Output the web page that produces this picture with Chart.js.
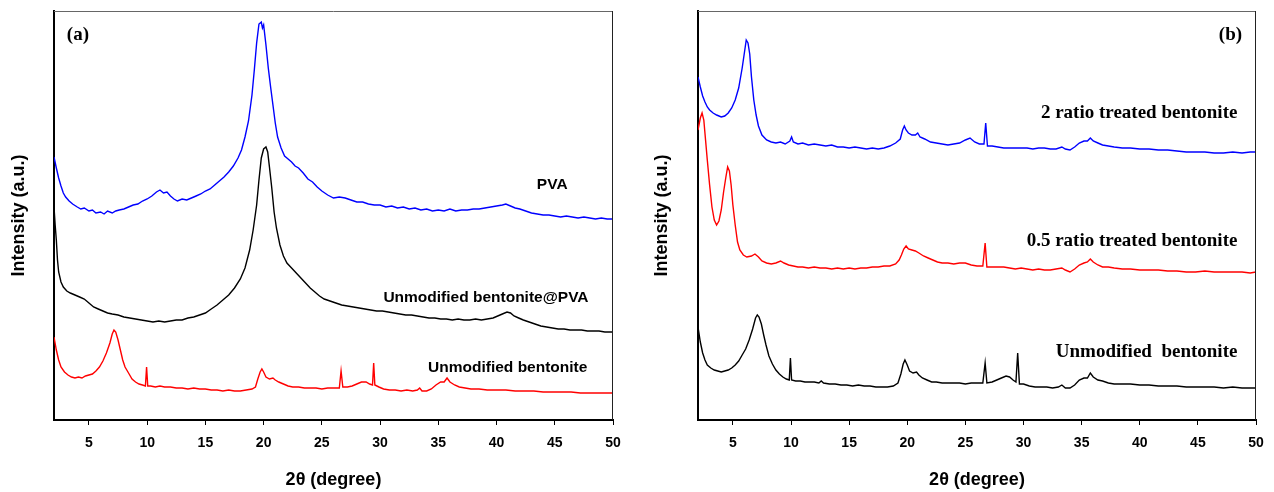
<!DOCTYPE html>
<html>
<head>
<meta charset="utf-8">
<script src="https://cdn.jsdelivr.net/npm/chart.js@4.4.0/dist/chart.umd.min.js"></script>
<style>
  html, body { margin: 0; padding: 0; background: #fff; }
  .row { display: flex; width: 1274px; height: 492px; }
  canvas { display: block; }
</style>
</head>
<body>
<div class="row">
  <canvas id="panelA" width="637" height="492"></canvas>
  <canvas id="panelB" width="637" height="492"></canvas>
</div>
<script>
/* ---------- data (2theta in degree, intensity in a.u.) ---------- */

const xTicks = [5, 10, 15, 20, 25, 30, 35, 40, 45, 50];

// panel (a)
const pvaA = [[2,263],[2.2,252],[2.4,242],[2.6,234],[2.8,227],[3.0,223],[3.3,219],[3.6,216],[4.0,213],[4.3,211],[4.6,212],[5.0,209],[5.3,210],[5.6,207],[6.0,208],[6.3,206],[6.6,209],[7.0,207],[7.3,209],[7.6,210],[8.0,211],[8.4,213],[8.8,215],[9.2,216],[9.6,219],[10.0,221],[10.4,224],[10.8,228],[11.1,230],[11.4,227],[11.7,228],[12.0,224],[12.3,221],[12.6,219],[13.0,221],[13.4,220],[13.8,222],[14.2,224],[14.6,226],[15.0,229],[15.4,231],[15.8,235],[16.2,239],[16.6,243],[17.0,248],[17.4,254],[17.8,262],[18.1,270],[18.4,283],[18.7,299],[19.0,325],[19.2,350],[19.4,377],[19.6,396],[19.8,398],[19.9,392],[20.0,395],[20.2,375],[20.4,352],[20.6,333],[20.8,315],[21.0,297],[21.2,283],[21.5,272],[21.8,264],[22.1,261],[22.4,258],[22.7,254],[23.0,252],[23.4,247],[23.8,241],[24.2,238],[24.6,233],[25.0,229],[25.5,225],[26.0,222],[26.5,223],[27.0,222],[27.5,220],[28.0,218],[28.5,218],[29.0,216],[29.5,215],[30.0,215],[30.5,213],[31.0,214],[31.5,212],[32.0,213],[32.5,211],[33.0,212],[33.5,210],[34.0,211],[34.5,209],[35.0,210],[35.5,209],[36.0,211],[36.5,209],[37.0,210],[37.5,210],[38.0,211],[38.5,211],[39.0,212],[39.5,213],[40.0,214],[40.5,215],[40.8,216],[41.2,214],[41.6,212],[42.0,211],[42.5,209],[43.0,207],[43.5,206],[44.0,205],[44.5,205],[45.0,204],[45.5,203],[46.0,204],[46.5,203],[47.0,202],[47.5,203],[48.0,202],[48.5,201],[49.0,202],[49.5,201],[50.0,201]];

const bentPvaA = [[2.0,213],[2.1,195],[2.2,180],[2.3,160],[2.4,148],[2.6,138],[2.8,133],[3.1,129],[3.4,127],[3.8,125],[4.2,123],[4.6,121],[5.0,117],[5.4,113],[5.8,111],[6.2,109],[6.6,107],[7.0,106],[7.5,105],[8.0,103],[8.5,102],[9.0,101],[9.5,100],[10.0,99],[10.5,98],[11.0,99],[11.5,98],[12.0,99],[12.5,100],[13.0,100],[13.5,102],[14.0,103],[14.5,105],[15.0,107],[15.5,111],[16.0,115],[16.5,120],[17.0,125],[17.5,132],[18.0,141],[18.4,152],[18.8,170],[19.1,190],[19.4,215],[19.6,240],[19.8,262],[20.0,271],[20.2,273],[20.35,268],[20.5,253],[20.7,232],[20.9,208],[21.1,192],[21.4,175],[21.7,164],[22.0,157],[22.4,152],[22.8,147],[23.2,142],[23.6,137],[24.0,132],[24.4,128],[24.8,124],[25.2,121],[25.7,119],[26.2,117],[26.7,115],[27.2,114],[27.7,113],[28.2,112],[28.7,111],[29.2,110],[29.7,109],[30.2,109],[30.7,108],[31.2,107],[31.7,106],[32.2,105],[32.7,105],[33.2,104],[33.7,103],[34.2,102],[34.7,102],[35.2,101],[35.7,101],[36.2,100],[36.7,101],[37.2,100],[37.7,100],[38.2,101],[38.7,100],[39.2,101],[39.7,102],[40.1,104],[40.5,106],[40.9,108],[41.2,107],[41.5,104],[41.9,102],[42.3,100],[42.8,98],[43.3,96],[43.8,94],[44.3,93],[44.8,92],[45.3,91],[45.8,91],[46.3,90],[46.8,90],[47.3,90],[47.8,89],[48.3,89],[48.8,89],[49.3,88],[50.0,88]];

const bentA = [[2.0,83],[2.2,70],[2.4,60],[2.6,53],[2.9,48],[3.2,45],[3.5,43],[3.8,42],[4.1,43],[4.4,42],[4.7,44],[5.0,45],[5.3,46],[5.6,49],[5.9,53],[6.2,59],[6.5,67],[6.8,77],[7.0,86],[7.15,90],[7.3,88],[7.5,80],[7.7,70],[7.9,60],[8.1,53],[8.4,47],[8.7,41],[9.0,38],[9.3,36],[9.6,35],[9.85,34],[9.95,53],[10.05,34],[10.3,34],[10.7,33],[11.1,34],[11.5,33],[12.0,33],[12.5,32],[13.0,32],[13.5,31],[14.0,32],[14.5,31],[15.0,31],[15.5,30],[16.0,30],[16.5,29],[17.0,30],[17.5,29],[18.0,29],[18.5,30],[19.0,31],[19.3,33],[19.5,41],[19.7,48],[19.85,51],[20.0,48],[20.2,43],[20.5,41],[20.8,42],[21.0,40],[21.3,38],[21.7,36],[22.1,34],[22.5,33],[23.0,33],[23.5,32],[24.0,32],[24.5,32],[25.0,31],[25.5,32],[26.0,32],[26.5,32],[26.65,49],[26.8,33],[27.2,33],[27.6,34],[28.0,36],[28.4,38],[28.8,38],[29.1,36],[29.35,35],[29.45,57],[29.55,35],[29.9,33],[30.3,31],[30.8,30],[31.3,30],[31.8,29],[32.3,30],[32.8,29],[33.2,30],[33.4,32],[33.6,29],[34.0,29],[34.4,31],[34.8,35],[35.2,38],[35.5,38],[35.75,42],[36.0,38],[36.4,35],[36.8,33],[37.3,32],[37.8,31],[38.5,31],[39.2,30],[40.0,30],[40.8,30],[41.6,29],[42.4,29],[43.2,29],[44.0,28],[44.8,28],[45.6,28],[46.4,28],[47.2,27],[48.0,27],[48.8,27],[49.5,27],[50.0,27]];

// panel (b)
const ratio2B = [[2.0,343],[2.2,333],[2.4,324],[2.6,318],[2.8,313],[3.0,310],[3.3,307],[3.6,305],[4.0,303],[4.3,304],[4.6,307],[4.9,312],[5.2,320],[5.5,332],[5.8,352],[6.0,368],[6.15,380],[6.3,377],[6.45,366],[6.6,343],[6.8,320],[7.0,305],[7.2,294],[7.5,285],[7.9,280],[8.3,278],[8.7,277],[9.1,278],[9.5,276],[9.9,279],[10.05,283],[10.2,278],[10.6,276],[11.0,277],[11.5,275],[12.0,276],[12.5,275],[13.0,274],[13.5,275],[14.0,273],[14.5,273],[15.0,272],[15.5,273],[16.0,272],[16.5,271],[17.0,272],[17.5,271],[18.0,272],[18.5,274],[19.0,277],[19.4,281],[19.6,290],[19.75,294],[19.9,290],[20.1,287],[20.4,285],[20.7,285],[20.9,287],[21.1,283],[21.5,281],[22.0,278],[22.5,277],[23.0,276],[23.5,275],[24.0,276],[24.5,277],[25.0,280],[25.4,282],[25.8,278],[26.2,276],[26.6,276],[26.75,297],[26.9,274],[27.3,274],[27.8,273],[28.3,272],[28.8,272],[29.3,272],[29.8,272],[30.3,272],[30.8,271],[31.3,272],[31.8,272],[32.3,271],[32.8,271],[33.3,273],[33.6,271],[34.0,270],[34.4,273],[34.8,277],[35.2,279],[35.5,279],[35.75,282],[36.0,279],[36.4,277],[36.8,275],[37.3,274],[37.8,273],[38.5,272],[39.2,272],[40.0,271],[40.8,271],[41.6,270],[42.4,270],[43.2,269],[44.0,268],[44.8,268],[45.6,268],[46.4,267],[47.2,267],[48.0,268],[48.8,267],[49.5,268],[50.0,268]];

const ratio05B = [[2.0,290],[2.1,296],[2.2,302],[2.35,307],[2.5,300],[2.65,280],[2.8,260],[3.0,235],[3.2,213],[3.4,200],[3.6,195],[3.8,199],[4.0,210],[4.2,228],[4.4,243],[4.55,253],[4.7,249],[4.85,235],[5.0,215],[5.2,195],[5.4,178],[5.6,170],[5.9,165],[6.2,163],[6.6,164],[6.9,166],[7.2,163],[7.5,159],[7.9,157],[8.3,156],[8.7,157],[9.1,159],[9.4,157],[9.8,155],[10.2,154],[10.6,153],[11.0,153],[11.5,152],[12.0,153],[12.5,152],[13.0,152],[13.5,151],[14.0,152],[14.5,151],[15.0,152],[15.5,151],[16.0,152],[16.5,152],[17.0,153],[17.5,153],[18.0,154],[18.5,154],[19.0,156],[19.3,160],[19.5,165],[19.7,171],[19.9,174],[20.1,171],[20.4,170],[20.7,169],[21.0,167],[21.4,164],[21.8,162],[22.2,160],[22.6,158],[23.0,157],[23.5,157],[24.0,156],[24.5,157],[25.0,157],[25.5,155],[26.0,154],[26.5,154],[26.7,177],[26.85,153],[27.3,153],[27.8,153],[28.3,153],[28.8,152],[29.3,151],[29.8,152],[30.3,151],[30.8,150],[31.3,151],[31.8,150],[32.3,150],[32.8,151],[33.3,152],[33.6,150],[34.0,148],[34.4,151],[34.8,155],[35.2,157],[35.5,158],[35.75,161],[36.0,158],[36.4,155],[36.8,153],[37.3,153],[37.8,152],[38.5,151],[39.2,151],[40.0,150],[40.8,150],[41.6,150],[42.4,149],[43.2,149],[44.0,148],[44.8,148],[45.6,149],[46.4,148],[47.2,148],[48.0,148],[48.8,148],[49.5,147],[50.0,148]];

const bentB = [[2.0,93],[2.2,78],[2.4,67],[2.6,60],[2.8,55],[3.1,52],[3.4,50],[3.7,49],[4.0,48],[4.3,49],[4.6,50],[4.9,52],[5.2,55],[5.5,59],[5.8,65],[6.1,71],[6.4,80],[6.7,91],[6.95,102],[7.1,105],[7.25,103],[7.45,96],[7.65,85],[7.85,75],[8.1,64],[8.4,56],[8.7,50],[9.0,46],[9.3,43],[9.6,41],[9.85,40],[9.95,62],[10.05,40],[10.4,39],[10.8,39],[11.2,38],[11.6,38],[12.0,38],[12.4,37],[12.6,39],[12.8,37],[13.3,36],[13.8,36],[14.3,35],[14.8,35],[15.3,34],[15.8,35],[16.3,34],[16.8,34],[17.3,33],[17.8,33],[18.3,33],[18.8,34],[19.2,37],[19.45,46],[19.65,56],[19.8,60],[20.0,55],[20.2,49],[20.5,47],[20.8,48],[21.0,45],[21.3,42],[21.7,40],[22.1,38],[22.5,38],[23.0,37],[23.5,37],[24.0,37],[24.5,37],[25.0,36],[25.5,37],[26.0,37],[26.5,37],[26.7,57],[26.85,37],[27.3,38],[27.7,40],[28.1,42],[28.5,44],[28.8,43],[29.1,40],[29.35,38],[29.5,67],[29.65,36],[30.0,36],[30.5,34],[31.0,33],[31.5,33],[32.0,33],[32.5,32],[33.0,33],[33.3,35],[33.6,32],[34.0,32],[34.4,35],[34.8,40],[35.2,42],[35.5,42],[35.75,47],[36.0,43],[36.4,40],[36.8,39],[37.3,37],[37.8,36],[38.5,36],[39.2,36],[40.0,35],[40.8,35],[41.6,34],[42.4,34],[43.2,34],[44.0,33],[44.8,33],[45.6,33],[46.4,33],[47.2,32],[48.0,33],[48.8,32],[49.5,32],[50.0,32]];

/* ---------- styling ---------- */
const SANS = "'Liberation Sans', Arial, sans-serif";
const SERIF = "'Liberation Serif', 'Times New Roman', serif";

// text drawn inside the plot, placed with data coordinates
const panelNotes = {
    id: 'panelNotes',
    afterDatasetsDraw(chart, args, opts) {
        const ctx = chart.ctx;
        const xs = chart.scales.x, ys = chart.scales.y;
        ctx.save();
        ctx.fillStyle = '#000';
        ctx.textBaseline = 'middle';
        (opts.items || []).forEach(function(n) {
            ctx.font = n.font;
            ctx.textAlign = n.align;
            ctx.fillText(n.text, xs.getPixelForValue(n.x), ys.getPixelForValue(n.y));
        });
        ctx.restore();
    },
    afterDraw(chart) {
        // thin top/right edges of the frame
        const a = chart.chartArea, ctx = chart.ctx;
        ctx.save();
        ctx.lineWidth = 1;
        ctx.strokeStyle = '#666';
        ctx.beginPath();
        ctx.moveTo(a.left, a.top + 0.5);
        ctx.lineTo(a.right, a.top + 0.5);
        ctx.stroke();
        ctx.strokeStyle = '#222';
        ctx.beginPath();
        ctx.moveTo(a.right - 0.5, a.top);
        ctx.lineTo(a.right - 0.5, a.bottom);
        ctx.stroke();
        ctx.restore();
    }
};

function toPoints(pairs) {
    return pairs.map(p => ({ x: p[0], y: p[1] }));
}

function makePanel(id, series, notes, yAxisWidth, rightPad, yTitlePad) {
    const ctx = document.getElementById(id);
    new Chart(ctx, {
        type: 'scatter',
        data: {
            datasets: series.map(s => ({
                data: toPoints(s.data),
                borderColor: s.color,
                backgroundColor: s.color,
                borderWidth: 1.4,
                showLine: true,
                pointRadius: 0,
                tension: 0
            }))
        },
        options: {
            responsive: false,
            animation: false,
            devicePixelRatio: 1,
            layout: { padding: { top: 11, right: rightPad, bottom: 0, left: 0 } },
            plugins: {
                legend: { display: false },
                tooltip: { enabled: false },
                panelNotes: { items: notes }
            },
            scales: {
                x: {
                    type: 'linear',
                    min: 2,
                    max: 50,
                    afterBuildTicks: function(scale) {
                        scale.ticks = xTicks.map(v => ({ value: v }));
                    },
                    afterFit: function(scale) { scale.height = 72; },
                    ticks: {
                        color: '#000',
                        padding: 10,
                        maxRotation: 0,
                        font: { family: SANS, size: 14, weight: 'bold' }
                    },
                    grid: {
                        display: true,
                        drawOnChartArea: false,
                        drawTicks: true,
                        tickLength: 5,
                        color: '#000',
                        lineWidth: 1
                    },
                    border: { color: '#000', width: 2 },
                    title: {
                        display: true,
                        text: '2θ (degree)',
                        color: '#000',
                        padding: { top: 0, bottom: 1 },
                        font: { family: SANS, size: 18, weight: 'bold' }
                    }
                },
                y: {
                    type: 'linear',
                    min: 0,
                    max: 409,
                    afterFit: function(scale) { scale.width = yAxisWidth; },
                    ticks: { display: false },
                    grid: { display: false },
                    border: { color: '#000', width: 2 },
                    title: {
                        display: true,
                        text: 'Intensity (a.u.)',
                        color: '#000',
                        padding: { top: yTitlePad, bottom: 0 },
                        font: { family: SANS, size: 18, weight: 'bold' }
                    }
                }
            }
        },
        plugins: [panelNotes]
    });
}

makePanel('panelA', [
    { data: pvaA, color: '#0000FF' },
    { data: bentPvaA, color: '#000000' },
    { data: bentA, color: '#FF0000' }
], [
    { text: '(a)', x: 3.1, y: 385, align: 'left', font: 'bold 19px ' + SERIF },
    { text: 'PVA', x: 46.1, y: 235, align: 'right', font: 'bold 15.5px ' + SANS },
    { text: 'Unmodified bentonite@PVA', x: 47.9, y: 122, align: 'right', font: 'bold 15.5px ' + SANS },
    { text: 'Unmodified bentonite', x: 47.8, y: 52, align: 'right', font: 'bold 15.5px ' + SANS }
], 54, 24, 8);

makePanel('panelB', [
    { data: ratio2B, color: '#0000FF' },
    { data: ratio05B, color: '#FF0000' },
    { data: bentB, color: '#000000' }
], [
    { text: '(b)', x: 48.8, y: 385, align: 'right', font: 'bold 19px ' + SERIF },
    { text: '2 ratio treated bentonite', x: 48.4, y: 307, align: 'right', font: 'bold 19px ' + SERIF },
    { text: '0.5 ratio treated bentonite', x: 48.4, y: 179, align: 'right', font: 'bold 19px ' + SERIF },
    { text: 'Unmodified  bentonite', x: 48.4, y: 68, align: 'right', font: 'bold 19px ' + SERIF }
], 61, 18, 14);
</script>
</body>
</html>
